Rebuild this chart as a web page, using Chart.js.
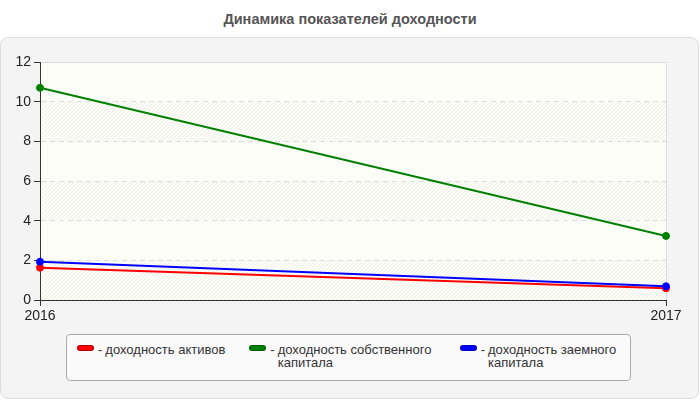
<!DOCTYPE html>
<html>
<head>
<meta charset="utf-8">
<script src="https://cdn.jsdelivr.net/npm/chart.js@4"></script>
<style>
  body { margin: 0; width: 700px; height: 400px; background: #fff; font-family: "Liberation Sans", Arial, sans-serif; position: relative; overflow: hidden; }
  #title { position: absolute; top: 11px; left: 0; width: 700px; text-align: center; font-weight: bold; font-size: 14.5px; color: #555; }
  #panel { position: absolute; top: 37px; left: 0; width: 697px; height: 360px; border: 1px solid #ddd; border-radius: 8px; background: #f4f4f4; }
  #chart { position: absolute; top: 0; left: 0; }
  #legend { position: absolute; left: 66px; top: 334px; width: 565px; height: 47px; border: 1px solid #aaa; border-radius: 4px; background: #fafafa; box-sizing: border-box; padding: 8px 0 0 10px; display: flex; align-items: flex-start; }
  .item { flex: none; display: flex; align-items: flex-start; margin-right: 24px; font-size: 13px; color: #333; line-height: 13px; }
  .swatch { flex: none; width: 17px; height: 6px; border-radius: 3px; margin-top: 2px; margin-right: 4px; box-sizing: border-box; border: 1px solid rgba(0,0,0,0.3); }
  .dash { flex: none; margin-right: 3px; }
  .label { flex: none; max-width: 158px; }
</style>
</head>
<body>
<div id="title">Динамика показателей доходности</div>
<div id="panel"></div>
<canvas id="chart" width="700" height="400"></canvas>
<div id="legend"></div>
<script>
// Data
const years = ["2016", "2017"];
const assetsReturn = [1.63, 0.59]; // доходность активов
const equityReturn = [10.7, 3.23]; // доходность собственного капитала
const debtReturn = [1.93, 0.69]; // доходность заемного капитала
const seriesLabels = ["доходность активов", "доходность собственного капитала", "доходность заемного капитала"];
const seriesColors = ["#ff0000", "#008000", "#0000ff"];
const yMin = 0, yMax = 12, yStep = 2;

// hatch pattern for alternate bands
function makeHatch(ctx) {
  const c = document.createElement("canvas");
  c.width = 4; c.height = 4;
  const g = c.getContext("2d");
  g.strokeStyle = "rgba(0,0,0,0.06)";
  g.lineWidth = 1;
  g.beginPath();
  g.moveTo(0, 4); g.lineTo(4, 0);
  g.moveTo(-1, 1); g.lineTo(1, -1);
  g.moveTo(3, 5); g.lineTo(5, 3);
  g.stroke();
  return ctx.createPattern(c, "repeat");
}

const bandPlugin = {
  id: "bands",
  beforeDraw(chart) {
    const { ctx, chartArea: a, scales } = chart;
    ctx.save();
    ctx.fillStyle = "#fdfdf8";
    ctx.fillRect(a.left, a.top, a.right - a.left, a.bottom - a.top);
    ctx.fillStyle = makeHatch(ctx);
    for (let v = yMin; v < yMax; v += yStep * 2) {
      const y1 = scales.y.getPixelForValue(v + yStep);
      const y0 = scales.y.getPixelForValue(v);
      ctx.fillRect(a.left, y1, a.right - a.left, y0 - y1);
    }
    ctx.restore();
  },
};

const seriesData = [assetsReturn, equityReturn, debtReturn];
const drawOrder = [1, 2, 0];

const lineChart = new Chart(document.getElementById("chart"), {
  type: "line",
  data: {
    labels: years,
    datasets: seriesData.map((d, i) => ({
      label: seriesLabels[i],
      data: d,
      borderColor: seriesColors[i],
      backgroundColor: seriesColors[i],
      borderWidth: 2,
      pointRadius: 3.5,
      pointBorderWidth: 1,
      fill: false,
      tension: 0,
      order: drawOrder[i],
    })),
  },
  options: {
    responsive: false,
    animation: false,
    layout: { padding: { left: 0, top: 62, right: 34, bottom: 70 } },
    scales: {
      x: {
        offset: false,
        afterFit: (s) => { s.height = 30; },
        grid: {
          color: "#dddddd",
          tickColor: "#333",
          tickLength: 6,
        },
        border: { color: "#333", width: 1 },
        ticks: { color: "#222", font: { size: 14, family: "Liberation Sans" }, padding: 2, maxRotation: 0 },
      },
      y: {
        min: yMin,
        max: yMax,
        afterFit: (s) => { s.width = 40; },
        grid: {
          color: "#dddddd",
          tickColor: "#333",
          tickLength: 6,
        },
        border: {
          color: "#333",
          width: 1,
          dash: (ctx) => (ctx.tick && ctx.tick.value === yMax ? [] : [5, 4]),
        },
        ticks: { stepSize: yStep, color: "#222", font: { size: 14, family: "Liberation Sans" }, padding: 3 },
      },
    },
    plugins: {
      legend: { display: false },
      tooltip: { enabled: false },
    },
  },
  plugins: [bandPlugin],
});

// HTML legend from the datasets
const legendBox = document.getElementById("legend");
lineChart.data.datasets.forEach((ds) => {
  const item = document.createElement("div");
  item.className = "item";
  item.innerHTML = '<span class="swatch" style="background:' + ds.borderColor + '"></span><span class="dash">-</span><span class="label"></span>';
  item.querySelector(".label").textContent = ds.label;
  legendBox.appendChild(item);
});
</script>
</body>
</html>
